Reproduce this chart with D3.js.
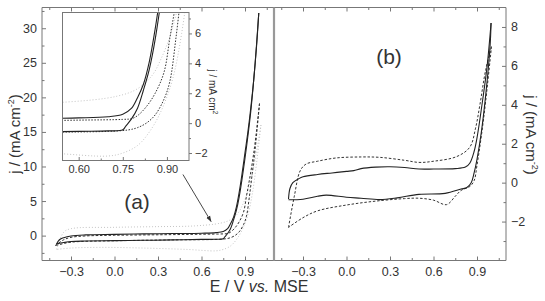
<!DOCTYPE html>
<html lang="en">
  <head>
    <meta charset="utf-8" />
    <title>CV curves</title>
    <style>
      body { margin: 0; background: #fff; }
      svg text { font-family: "Liberation Sans", Arial, sans-serif; fill: #333; }
      .axis path, .axis line { stroke: #777; }
    </style>
  </head>
  <body>
    <svg id="chart" width="545" height="301"></svg>
    <script src="https://d3js.org/d3.v7.min.js"></script>
    <script>
      // panel (a): [E, j] pairs, forward sweep then reverse sweep
      var aSolidFwd = [[-0.40,-1.2],[-0.38,-0.6],[-0.35,-0.3],[-0.30,-0.05],[-0.20,0.1],[0.0,0.18],[0.2,0.25],[0.4,0.3],[0.6,0.35],[0.70,0.43],[0.75,0.6],[0.78,1.0],[0.80,1.7],[0.82,2.6],[0.84,4.1],[0.86,6.3],[0.88,9.0],[0.90,12.0],[0.92,15.0],[0.94,18.5],[0.96,22.5],[0.98,27.5],[0.995,32.2]];
      var aSolidRev = [[0.995,32.2],[0.97,25.0],[0.94,18.0],[0.90,11.2],[0.86,5.6],[0.84,3.6],[0.82,2.2],[0.80,1.0],[0.78,0.3],[0.76,-0.2],[0.75,-0.45],[0.70,-0.52],[0.6,-0.55],[0.4,-0.62],[0.2,-0.68],[0.0,-0.72],[-0.2,-0.78],[-0.30,-0.85],[-0.35,-1.0],[-0.40,-1.2]];
      var aDashFwd = [[-0.41,-1.45],[-0.35,-0.6],[-0.30,-0.25],[-0.20,-0.05],[0.0,0.05],[0.3,0.12],[0.6,0.2],[0.75,0.25],[0.78,0.3],[0.80,0.5],[0.83,1.1],[0.86,2.0],[0.89,3.4],[0.91,5.7],[0.93,8.0],[0.95,10.5],[0.97,13.5],[1.0,19.1]];
      var aDashRev = [[1.0,19.1],[0.97,12.5],[0.95,9.0],[0.93,5.6],[0.91,2.8],[0.89,1.6],[0.86,0.55],[0.83,0.0],[0.80,-0.3],[0.77,-0.45],[0.70,-0.55],[0.4,-0.62],[0.0,-0.75],[-0.30,-0.95],[-0.38,-1.3],[-0.41,-1.45]];
      var aDotFwd = [[-0.40,-2.0],[-0.35,0.5],[-0.30,1.0],[0.0,1.2],[0.3,1.3],[0.55,1.4],[0.73,1.8],[0.80,2.3],[0.85,3.2],[0.88,4.3],[0.91,5.8],[0.94,8.0],[0.97,11.0],[1.01,16.0]];
      var aDotRev = [[1.01,16.0],[0.98,10.5],[0.95,6.0],[0.92,3.0],[0.88,0.8],[0.84,-0.6],[0.80,-1.5],[0.75,-2.0],[0.70,-2.2],[0.5,-2.0],[0.2,-1.8],[-0.1,-1.7],[-0.30,-1.8],[-0.40,-2.0]];

      // panel (b)
      var bSolidFwd = [[-0.40,-0.84],[-0.39,-0.3],[-0.37,0.0],[-0.33,0.2],[-0.30,0.3],[-0.2,0.42],[-0.1,0.5],[0.0,0.58],[0.05,0.62],[0.1,0.72],[0.2,0.8],[0.3,0.82],[0.4,0.78],[0.5,0.7],[0.6,0.7],[0.75,0.72],[0.82,0.8],[0.85,1.0],[0.88,1.6],[0.90,2.3],[0.94,4.3],[0.97,6.0],[0.997,8.2]];
      var bSolidRev = [[0.997,8.2],[0.99,7.0],[0.96,4.5],[0.93,2.6],[0.90,1.2],[0.88,0.5],[0.86,0.0],[0.83,-0.25],[0.79,-0.33],[0.68,-0.55],[0.5,-0.6],[0.35,-0.78],[0.23,-0.87],[0.1,-0.8],[0.0,-0.75],[-0.14,-0.64],[-0.2,-0.7],[-0.30,-0.85],[-0.40,-0.88]];
      var bDashFwd = [[-0.40,-2.3],[-0.36,-0.7],[-0.32,0.6],[-0.28,0.95],[-0.2,1.1],[-0.07,1.27],[0.1,1.32],[0.23,1.3],[0.4,1.15],[0.5,1.04],[0.6,1.1],[0.76,1.34],[0.85,1.82],[0.89,2.8],[0.92,4.0],[0.96,5.8],[1.0,7.0]];
      var bDashRev = [[1.0,7.0],[0.96,4.2],[0.93,2.4],[0.90,0.9],[0.88,0.1],[0.85,-0.2],[0.79,-0.4],[0.75,-0.7],[0.69,-1.13],[0.6,-0.9],[0.5,-0.8],[0.4,-0.82],[0.2,-0.95],[0.0,-1.15],[-0.2,-1.45],[-0.30,-1.8],[-0.40,-2.3]];

      var xTicks = [-0.3, 0.0, 0.3, 0.6, 0.9];
      var xMinor = [-0.45, -0.15, 0.15, 0.45, 0.75, 1.05];
      var aTicks = [0, 5, 10, 15, 20, 25, 30];
      var aMinor = [-2.5, 2.5, 7.5, 12.5, 17.5, 22.5, 27.5, 32.5];
      var bTicks = [-2, 0, 2, 4, 6, 8];
      var bMinor = [-3, -1, 1, 3, 5, 7];
      var insetXTicks = [0.60, 0.75, 0.90];
      var insetXMinor = [0.675, 0.825];
      var insetYTicks = [-2, 0, 2, 4, 6];
      var insetYMinor = [-1, 1, 3, 5, 7];

      var svg = d3.select("#chart");
      var plotTop = 7.5, plotBottom = 260.5;

      var xA = d3.scaleLinear().domain([-0.5, 1.1]).range([42, 274]);
      var yA = d3.scaleLinear().domain([-3.6, 33]).range([plotBottom, plotTop]);
      var xB = d3.scaleLinear().domain([-0.5, 1.1]).range([274, 506]);
      var yB = d3.scaleLinear().domain([-4, 9]).range([plotBottom, plotTop]);
      var xI = d3.scaleLinear().domain([0.545, 0.975]).range([62.5, 189]);
      var yI = d3.scaleLinear().domain([-2.5, 7.4]).range([160.5, 12.5]);

      var defs = svg.append("defs");
      defs.append("clipPath").attr("id", "clipA").append("rect")
        .attr("x", 42).attr("y", plotTop).attr("width", 232).attr("height", plotBottom - plotTop);
      defs.append("clipPath").attr("id", "clipB").append("rect")
        .attr("x", 274).attr("y", plotTop).attr("width", 232).attr("height", plotBottom - plotTop);
      defs.append("clipPath").attr("id", "clipI").append("rect")
        .attr("x", 62.5).attr("y", 12.5).attr("width", 126.5).attr("height", 148);
      defs.append("marker").attr("id", "arrow").attr("viewBox", "0 0 10 10")
        .attr("refX", 9).attr("refY", 5).attr("markerWidth", 7).attr("markerHeight", 7)
        .attr("orient", "auto")
        .append("path").attr("d", "M0,1.5L10,5L0,8.5z").attr("fill", "#333");

      function fmt(d) { return d3.format(".1f")(d); }

      function noDomain(a) { a.select(".domain").remove(); }

      function drawAxes(g, x, y, opts) {
        // bottom
        g.append("g").attr("class", "axis")
          .attr("transform", "translate(0," + plotBottom + ")")
          .call(d3.axisBottom(x).tickValues(xTicks).tickSizeInner(-4).tickSizeOuter(0).tickPadding(7).tickFormat(fmt))
          .call(noDomain);
        g.append("g").attr("class", "axis")
          .attr("transform", "translate(0," + plotBottom + ")")
          .call(d3.axisBottom(x).tickValues(xMinor).tickSizeInner(-2.5).tickSizeOuter(0).tickFormat(""))
          .call(noDomain);
        // top
        g.append("g").attr("class", "axis")
          .attr("transform", "translate(0," + plotTop + ")")
          .call(d3.axisTop(x).tickValues(xTicks).tickSizeInner(-4).tickSizeOuter(0).tickFormat(""))
          .call(noDomain);
        g.append("g").attr("class", "axis")
          .attr("transform", "translate(0," + plotTop + ")")
          .call(d3.axisTop(x).tickValues(xMinor).tickSizeInner(-2.5).tickSizeOuter(0).tickFormat(""))
          .call(noDomain);
        // side with labels
        var sx = opts.side === "left" ? x.range()[0] : x.range()[1];
        var ax = opts.side === "left" ? d3.axisLeft(y) : d3.axisRight(y);
        var axm = opts.side === "left" ? d3.axisLeft(y) : d3.axisRight(y);
        g.append("g").attr("class", "axis")
          .attr("transform", "translate(" + sx + ",0)")
          .call(ax.tickValues(opts.ticks).tickSizeInner(-4).tickSizeOuter(0).tickPadding(5))
          .call(noDomain);
        g.append("g").attr("class", "axis")
          .attr("transform", "translate(" + sx + ",0)")
          .call(axm.tickValues(opts.minor).tickSizeInner(-2.5).tickSizeOuter(0).tickFormat(""))
          .call(noDomain);
        g.selectAll(".tick text").style("font-size", "12.5px").attr("fill", "#333");
      }

      var line = d3.line().curve(d3.curveCatmullRom.alpha(0.5));

      function drawCurve(g, data, x, y, style) {
        g.append("path")
          .datum(data)
          .attr("d", line.x(function (d) { return x(d[0]); }).y(function (d) { return y(d[1]); }))
          .attr("fill", "none")
          .attr("stroke", style.color)
          .attr("stroke-width", style.width)
          .attr("stroke-dasharray", style.dash);
      }

      var solid = { color: "#222", width: 1.1, dash: null };
      var dash = { color: "#333", width: 1, dash: "2.5,1.8" };
      var dot = { color: "#c4c4c4", width: 1, dash: "1,2" };

      // panel (a)
      var gA = svg.append("g");
      drawAxes(gA, xA, yA, { side: "left", ticks: aTicks, minor: aMinor });
      var cA = gA.append("g").attr("clip-path", "url(#clipA)");
      drawCurve(cA, aDotFwd, xA, yA, dot);
      drawCurve(cA, aDotRev, xA, yA, dot);
      drawCurve(cA, aDashFwd, xA, yA, dash);
      drawCurve(cA, aDashRev, xA, yA, dash);
      drawCurve(cA, aSolidFwd, xA, yA, solid);
      drawCurve(cA, aSolidRev, xA, yA, solid);

      // panel (b)
      var gB = svg.append("g");
      drawAxes(gB, xB, yB, { side: "right", ticks: bTicks, minor: bMinor });
      var cB = gB.append("g").attr("clip-path", "url(#clipB)");
      drawCurve(cB, bDashFwd, xB, yB, dash);
      drawCurve(cB, bDashRev, xB, yB, dash);
      drawCurve(cB, bSolidFwd, xB, yB, solid);
      drawCurve(cB, bSolidRev, xB, yB, solid);

      // frames
      svg.append("path")
        .attr("d", "M42," + plotTop + "V" + plotBottom + "H506V" + plotTop + "Z")
        .attr("fill", "none").attr("stroke", "#777").attr("stroke-width", 1);
      svg.append("line")
        .attr("x1", 274).attr("x2", 274).attr("y1", plotTop).attr("y2", plotBottom)
        .attr("stroke", "#999").attr("stroke-width", 2.2);

      // inset
      var gI = svg.append("g");
      gI.append("rect").attr("x", 62.5).attr("y", 12.5).attr("width", 126.5).attr("height", 148)
        .attr("fill", "#fff");
      var cI = gI.append("g").attr("clip-path", "url(#clipI)");
      drawCurve(cI, aDotFwd, xI, yI, dot);
      drawCurve(cI, aDotRev, xI, yI, dot);
      drawCurve(cI, aDashFwd, xI, yI, { color: "#333", width: 1, dash: "1.5,1.5" });
      drawCurve(cI, aDashRev, xI, yI, { color: "#333", width: 1, dash: "1.5,1.5" });
      drawCurve(cI, aSolidFwd, xI, yI, solid);
      drawCurve(cI, aSolidRev, xI, yI, solid);
      gI.append("g").attr("class", "axis")
        .attr("transform", "translate(0,160.5)")
        .call(d3.axisBottom(xI).tickValues(insetXTicks).tickSizeInner(-3.5).tickSizeOuter(0).tickPadding(5).tickFormat(d3.format(".2f")))
        .call(noDomain);
      gI.append("g").attr("class", "axis")
        .attr("transform", "translate(0,160.5)")
        .call(d3.axisBottom(xI).tickValues(insetXMinor).tickSizeInner(-2).tickSizeOuter(0).tickFormat(""))
        .call(noDomain);
      gI.append("g").attr("class", "axis")
        .attr("transform", "translate(189,0)")
        .call(d3.axisRight(yI).tickValues(insetYTicks).tickSizeInner(3).tickSizeOuter(0).tickPadding(3))
        .call(noDomain);
      gI.append("g").attr("class", "axis")
        .attr("transform", "translate(189,0)")
        .call(d3.axisRight(yI).tickValues(insetYMinor).tickSizeInner(2).tickSizeOuter(0).tickFormat(""))
        .call(noDomain);
      gI.selectAll(".tick text").style("font-size", "11px").attr("fill", "#333");
      gI.append("rect").attr("x", 62.5).attr("y", 12.5).attr("width", 126.5).attr("height", 148)
        .attr("fill", "none").attr("stroke", "#777").attr("stroke-width", 1);
      var it = gI.append("text")
        .attr("transform", "translate(209,92) rotate(90)")
        .attr("text-anchor", "middle")
        .style("font-size", "10px");
      it.append("tspan").text("j / mA cm");
      it.append("tspan").attr("dy", -4).style("font-size", "7px").text("2");

      // arrow pointing at the zoomed region
      svg.append("line")
        .attr("x1", xA(0.472)).attr("y1", yA(8.84))
        .attr("x2", xA(0.666)).attr("y2", yA(2.03))
        .attr("stroke", "#333").attr("stroke-width", 0.9)
        .attr("marker-end", "url(#arrow)");

      // panel letters
      svg.append("text").attr("x", 137).attr("y", 209).attr("text-anchor", "middle")
        .style("font-size", "21px").text("(a)");
      svg.append("text").attr("x", 389).attr("y", 64).attr("text-anchor", "middle")
        .style("font-size", "21px").text("(b)");

      // axis titles
      var ly = svg.append("text")
        .attr("transform", "translate(20,134) rotate(-90)")
        .attr("text-anchor", "middle")
        .style("font-size", "15px");
      ly.append("tspan").text("j / (mA cm");
      ly.append("tspan").attr("dy", -6).style("font-size", "9px").text("-2");
      ly.append("tspan").attr("dy", 6).text(")");

      var ry = svg.append("text")
        .attr("transform", "translate(526,135) rotate(90)")
        .attr("text-anchor", "middle")
        .style("font-size", "15px");
      ry.append("tspan").text("j / (mA cm");
      ry.append("tspan").attr("dy", -6).style("font-size", "9px").text("-2");
      ry.append("tspan").attr("dy", 6).text(")");

      var xt = svg.append("text").attr("x", 259).attr("y", 292).attr("text-anchor", "middle")
        .style("font-size", "16px");
      xt.append("tspan").text("E / V ");
      xt.append("tspan").style("font-style", "italic").text("vs.");
      xt.append("tspan").text(" MSE");
    </script>
  </body>
</html>
